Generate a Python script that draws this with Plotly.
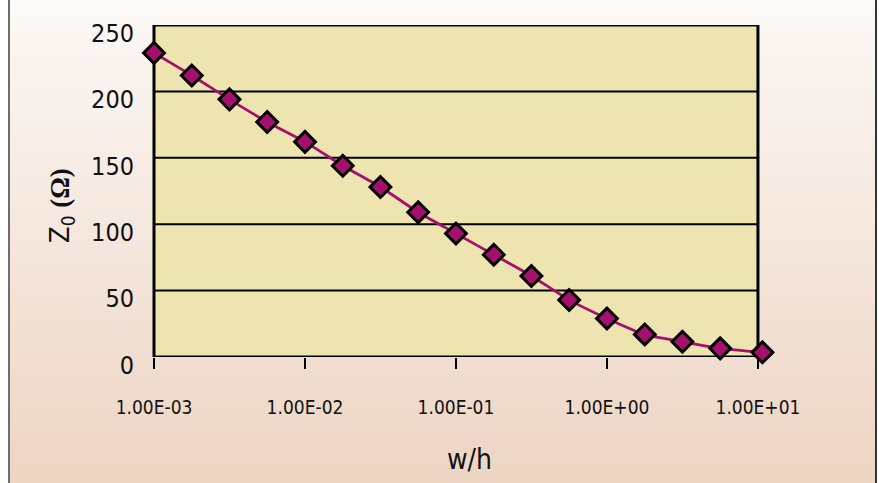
import math
import plotly.graph_objects as go

# ---- data ----
w_over_h = [0.001, 0.00178, 0.00316, 0.00562, 0.01, 0.0178, 0.0316, 0.0562,
            0.1, 0.178, 0.316, 0.562, 1.0, 1.78, 3.16, 5.62, 10.7]
z0 = [229, 212, 194, 177, 162, 144, 128, 109,
      93, 77, 61, 43, 29, 17, 11.5, 6.5, 3.5]
x_tick_vals = [0.001, 0.01, 0.1, 1, 10]
x_tick_text = ["1.00E-03", "1.00E-02", "1.00E-01", "1.00E+00", "1.00E+01"]
y_grid = [50, 100, 150, 200]

W, H = 879, 483
XR = [-3, 1.04]
L, T, B = 154, 25, 126
PW = 610
R = W - L - PW
PH = H - T - B


def px_x(p):
    return (p - L) / PW


def px_y(p):
    return 1 - (p - T) / PH


def xp(v):
    return (math.log10(v) - XR[0]) / (XR[1] - XR[0])


FONT = "Liberation Sans Narrow, DejaVu Sans Condensed, Arial Narrow, sans-serif"

fig = go.Figure()
fig.add_trace(go.Scatter(
    x=w_over_h, y=z0, mode="lines+markers",
    line=dict(color="#A3116C", width=2.8, shape="spline", smoothing=0.6),
    marker=dict(symbol="diamond", size=16, color="#A3116C",
                line=dict(color="black", width=3)),
    cliponaxis=False, showlegend=False, hoverinfo="skip",
))

shapes = []
# gradient background strips
top_c = (252, 249, 246)
bot_c = (237, 212, 195)
N = 60
for i in range(N):
    y0 = H * i / N
    y1 = H * (i + 1) / N + 0.5
    f = (i + 0.5) / N
    c = tuple(round(top_c[k] + (bot_c[k] - top_c[k]) * f) for k in range(3))
    shapes.append(dict(type="rect", xref="paper", yref="paper",
                       x0=px_x(10), x1=px_x(875), y0=px_y(y1), y1=px_y(y0),
                       fillcolor="rgb(%d,%d,%d)" % c, line=dict(width=0),
                       layer="below"))
# outer frame lines
shapes.append(dict(type="line", xref="paper", yref="paper",
                   x0=px_x(9), x1=px_x(9), y0=px_y(0), y1=px_y(H),
                   line=dict(color="#6E6E6E", width=2), layer="below"))
shapes.append(dict(type="line", xref="paper", yref="paper",
                   x0=px_x(876), x1=px_x(876), y0=px_y(0), y1=px_y(H),
                   line=dict(color="#333333", width=2), layer="below"))
# plot area fill
x_left, x_right = xp(x_tick_vals[0]), xp(x_tick_vals[-1])
shapes.append(dict(type="rect", xref="paper", yref="y", x0=x_left, x1=x_right,
                   y0=0, y1=250, fillcolor="#EEE4B0", line=dict(width=0),
                   layer="below"))
# gridlines
for g in y_grid:
    shapes.append(dict(type="line", xref="paper", yref="y", x0=x_left, x1=x_right,
                       y0=g, y1=g, line=dict(color="black", width=2),
                       layer="below"))
# plot area border
shapes.append(dict(type="rect", xref="paper", yref="y", x0=x_left, x1=x_right,
                   y0=0, y1=250, line=dict(color="black", width=3),
                   fillcolor="rgba(0,0,0,0)", layer="below"))

annotations = [
    dict(text="w/h", xref="paper", yref="paper", x=px_x(469), y=px_y(459),
         showarrow=False, font=dict(family=FONT, size=28, color="#111"),
         xanchor="center", yanchor="middle"),
    dict(text="Z<sub>0</sub> <span style='font-family:Liberation Serif, serif'><b>(Ω)</b></span>",
         xref="paper", yref="paper", x=px_x(61), y=px_y(206), textangle=-90,
         showarrow=False, font=dict(family=FONT, size=27, color="#111"),
         xanchor="center", yanchor="middle"),
]

fig.update_layout(
    width=W, height=H,
    margin=dict(l=L, r=R, t=T, b=B, pad=0),
    paper_bgcolor="white", plot_bgcolor="rgba(0,0,0,0)",
    shapes=shapes, annotations=annotations, hovermode=False,
    xaxis=dict(type="log", range=XR, tickvals=x_tick_vals, ticktext=x_tick_text,
               ticks="outside", ticklen=11, tickwidth=2, tickcolor="black",
               showgrid=False, zeroline=False, showline=False,
               tickfont=dict(family=FONT, size=19, color="#111"),
               ticklabelstandoff=22),
    yaxis=dict(range=[0, 250], dtick=50, tick0=0, ticks="",
               showgrid=False, zeroline=False, showline=False,
               tickfont=dict(family=FONT, size=25, color="#111"),
               ticklabelstandoff=19, ticklabelshift=8),
)

fig.write_html("out.html",
               config={"displayModeBar": False},
               post_script="document.body.style.margin='0';"
                           "document.body.style.overflow='hidden';")
